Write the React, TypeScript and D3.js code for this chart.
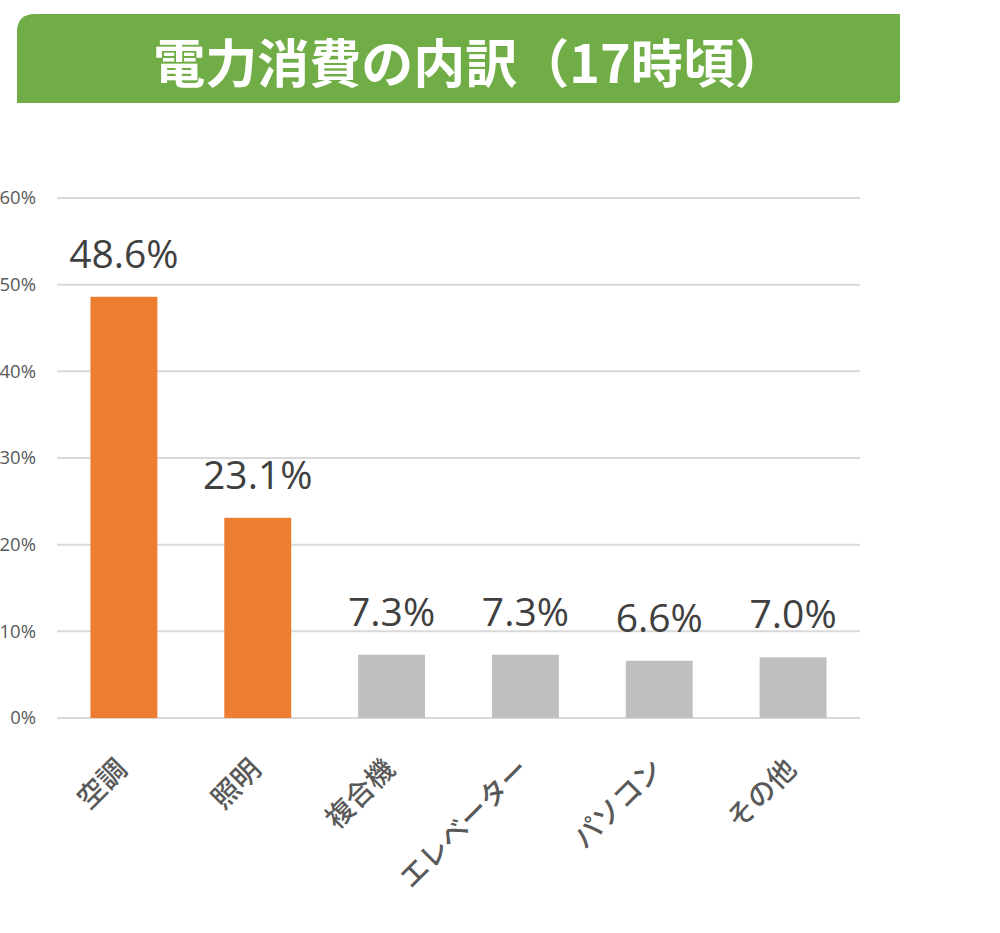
import React, { useEffect, useRef } from 'react';
import * as d3 from 'd3';

const categories = ['空調', '照明', '複合機', 'エレベーター', 'パソコン', 'その他'];
const values = [48.6, 23.1, 7.3, 7.3, 6.6, 7.0];
const highlighted = [true, true, false, false, false, false];
const yTicks = [0, 10, 20, 30, 40, 50, 60];
const title = '電力消費の内訳（17時頃）';

const App: React.FC = () => {
  const svgRef = useRef<SVGSVGElement>(null);

  useEffect(() => {
    if (!svgRef.current) return;
    const svg = d3.select(svgRef.current);
    svg.selectAll('*').remove();

    const width = 1000;
    const height = 933;
    const plot = { left: 57, right: 860, top: 198, bottom: 718 };
    const jp = '"Noto Sans CJK JP", "Noto Sans", sans-serif';
    const num = '"Open Sans", "Noto Sans", sans-serif';

    svg.attr('width', width).attr('height', height);

    // Title banner
    const bx0 = 17, bx1 = 900, by0 = 14, by1 = 103, r = 18, r2 = 4;
    svg.append('path')
      .attr('d', `M${bx0},${by0 + r} Q${bx0},${by0} ${bx0 + r},${by0} L${bx1},${by0} L${bx1},${by1 - r2} Q${bx1},${by1} ${bx1 - r2},${by1} L${bx0},${by1} Z`)
      .attr('fill', '#70AD47');

    svg.append('text')
      .attr('x', 470)
      .attr('y', 83)
      .attr('text-anchor', 'middle')
      .attr('fill', '#ffffff')
      .style('font-family', jp)
      .style('font-weight', 700)
      .style('font-size', '52px')
      .text(title);

    const x = d3.scaleBand<string>()
      .domain(categories)
      .range([plot.left, plot.right])
      .paddingInner(0.5)
      .paddingOuter(0.25);

    const y = d3.scaleLinear()
      .domain([0, 60])
      .range([plot.bottom, plot.top]);

    // Gridlines
    svg.append('g')
      .selectAll('line')
      .data(yTicks)
      .join('line')
      .attr('x1', plot.left)
      .attr('x2', plot.right)
      .attr('y1', d => y(d))
      .attr('y2', d => y(d))
      .attr('stroke', '#D9D9D9')
      .attr('stroke-width', 2);

    // Y tick labels
    svg.append('g')
      .selectAll('text')
      .data(yTicks)
      .join('text')
      .attr('x', 36)
      .attr('y', d => y(d))
      .attr('dy', '0.35em')
      .attr('text-anchor', 'end')
      .attr('fill', '#595959')
      .style('font-family', num)
      .style('font-size', '18.5px')
      .text(d => `${d}%`);

    // Bars
    svg.append('g')
      .selectAll('rect')
      .data(values)
      .join('rect')
      .attr('x', (_, i) => x(categories[i])!)
      .attr('width', x.bandwidth())
      .attr('y', d => y(d))
      .attr('height', d => y(0) - y(d))
      .attr('fill', (_, i) => (highlighted[i] ? '#ED7D31' : '#BFBFBF'));

    // Value labels
    svg.append('g')
      .selectAll('text')
      .data(values)
      .join('text')
      .attr('x', (_, i) => x(categories[i])! + x.bandwidth() / 2)
      .attr('y', d => y(d) - 29)
      .attr('text-anchor', 'middle')
      .attr('fill', '#404040')
      .style('font-family', num)
      .style('font-size', '39px')
      .text(d => `${d.toFixed(1)}%`);

    // Category labels, rotated
    svg.append('g')
      .selectAll('text')
      .data(categories)
      .join('text')
      .attr('transform', d => `translate(${x(d)! + x.bandwidth() / 2 + 5},${plot.bottom + 53}) rotate(-45)`)
      .attr('text-anchor', 'end')
      .attr('fill', '#595959')
      .style('font-family', jp)
      .style('font-weight', 500)
      .style('font-size', '28px')
      .text(d => d);
  }, []);

  return (
    <div style={{ position: 'absolute', left: 0, top: 0, width: 1000, height: 933, background: '#fff' }}>
      <svg ref={svgRef} style={{ display: 'block' }} />
    </div>
  );
};

export default App;
